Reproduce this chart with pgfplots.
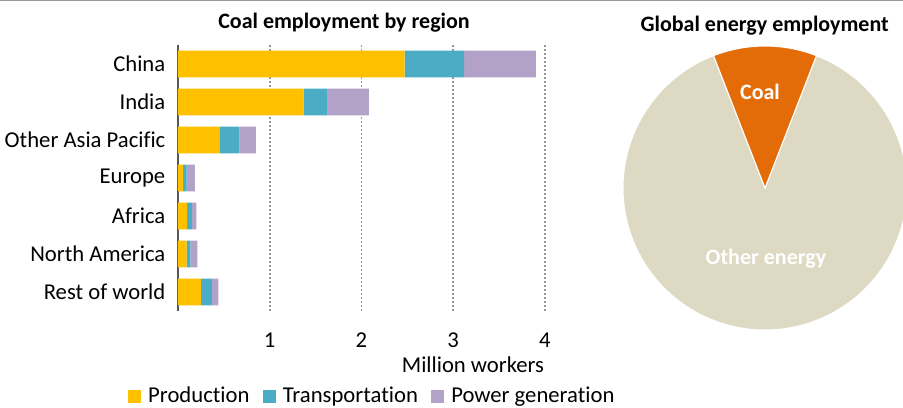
\documentclass[border=0pt]{standalone}
\usepackage{fontspec}
\setmainfont{Carlito}[Ligatures=NoCommon]
\usepackage{pgfplots}
\usepackage{pgfplotstable}
\pgfplotsset{compat=1.18}
\definecolor{prod}{RGB}{255,192,0}
\definecolor{trans}{RGB}{75,172,198}
\definecolor{power}{RGB}{179,162,199}
\definecolor{coal}{RGB}{227,108,9}
\definecolor{other}{RGB}{221,217,195}
\definecolor{gridgray}{RGB}{150,150,150}

\pgfplotstableread{
y prod trans power
0 2.47 0.65 0.78
1 1.37 0.26 0.45
2 0.45 0.22 0.18
3 0.056 0.038 0.091
4 0.10 0.05 0.05
5 0.094 0.041 0.075
6 0.25 0.12 0.07
}\bars

\pgfplotstableread{
slice share
Coal 11.8
Other 88.2
}\pie

\begin{document}
\begin{tikzpicture}[font=\fontsize{17}{20}\selectfont]
\useasboundingbox (0,0) rectangle (677.25pt,-305.25pt);
\draw[gray!80, line width=1.2pt] (0,-0.5pt) -- (677.25pt,-0.5pt);

\node[font=\fontsize{16.5}{20}\selectfont\bfseries] at (258pt,-17pt) {Coal employment by region};
\node[font=\fontsize{16.5}{20}\selectfont\bfseries] at (573.5pt,-19pt) {Global energy employment};
\node at (354.75pt,-273.75pt) {Million workers};

\begin{axis}[
 at={(133.5pt,-33.75pt)}, anchor=north west,
 scale only axis, width=282.1pt, height=199.5pt,
 xbar stacked, bar width=0.7,
 xmin=0, xmax=4.1, ymin=-0.5, ymax=6.5, y dir=reverse,
 ytick={0,...,6},
 yticklabels={China,India,Other Asia Pacific,Europe,Africa,North America,Rest of world},
 xtick={1,2,3,4},
 axis y line*=left, axis x line*=bottom,
 x axis line style={draw=none},
 y axis line style={-, draw=black!65, line width=0.8pt},
 major tick length=0pt,
 xmajorgrids,
 grid style={dash pattern=on 1.4pt off 1.6pt, line width=1.4pt, gridgray},
 tick label style={font=\fontsize{17}{20}\selectfont},
 xticklabel style={yshift=-13pt},
 yticklabel style={xshift=-6pt},
 /pgf/number format/assume math mode=true,
 legend style={at={(axis description cs:-0.133,-0.32)}, anchor=west, draw=none, fill=none,
   inner sep=0pt, font=\fontsize{17}{20}\selectfont,
   /tikz/every even column/.append style={column sep=8pt}},
 legend columns=3,
 legend image code/.code={\fill[#1] (0pt,-4.9pt) rectangle (9.75pt,4.9pt); \path (13pt,0pt);},
]
\addplot[fill=prod, draw=none] table[x=prod, y=y] {\bars};
\addplot[fill=trans, draw=none] table[x=trans, y=y] {\bars};
\addplot[fill=power, draw=none] table[x=power, y=y] {\bars};
\legend{Production, Transportation, Power generation}
\end{axis}

\pgfplotstablegetelem{0}{share}\of\pie
\pgfmathsetmacro{\coalshare}{\pgfplotsretval}
\pgfmathsetmacro{\aA}{90-\coalshare*1.8}
\pgfmathsetmacro{\aB}{90+\coalshare*1.8}
\pgfmathsetmacro{\aC}{\aA+360}
\begin{axis}[
 at={(573.75pt,-141pt)}, anchor=center,
 scale only axis, width=213pt, height=213pt,
 xmin=-1, xmax=1, ymin=-1, ymax=1, hide axis, clip=false]
\addplot[draw=none, forget plot] coordinates {(0,0)};
\fill[other, draw=white, line width=0.8pt] (axis cs:0,0) -- ++(\aB:106.5pt) arc[start angle=\aB, end angle=\aC, radius=106.5pt] -- cycle;
\fill[coal, draw=white, line width=0.8pt] (axis cs:0,0) -- ++(\aA:106.5pt) arc[start angle=\aA, end angle=\aB, radius=106.5pt] -- cycle;
\end{axis}
\node[white, font=\fontsize{16.5}{20}\selectfont\bfseries] at (570pt,-69pt) {Coal};
\node[white, font=\fontsize{16.5}{20}\selectfont\bfseries] at (574.5pt,-194.25pt) {Other energy};
\end{tikzpicture}
\end{document}
